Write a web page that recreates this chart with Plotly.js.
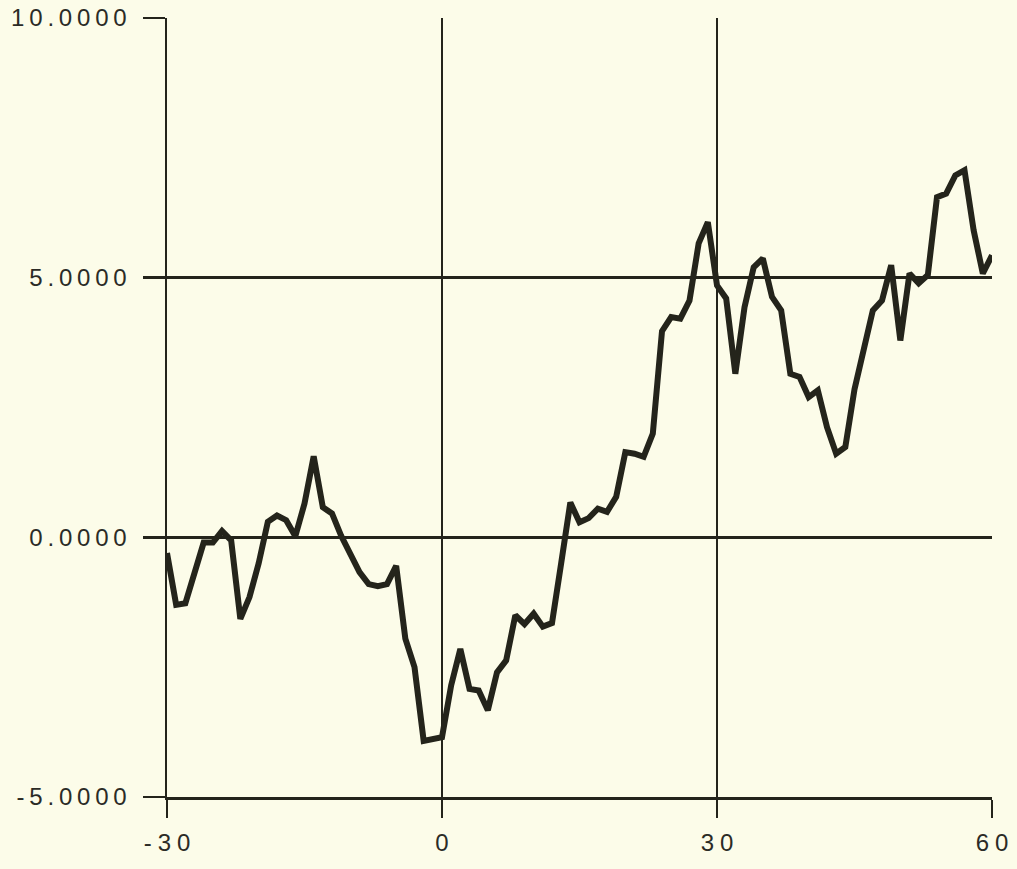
<!DOCTYPE html>
<html>
<head>
<meta charset="utf-8">
<script src="https://cdn.plot.ly/plotly-3.0.1.min.js"></script>
<style>
  html, body { margin: 0; padding: 0; background: #fcfce9; }
  #chart { width: 1017px; height: 869px; }
</style>
</head>
<body>
<div id="chart"></div>
<script>
// Series: x positions and values
const xValues = [
  -30, -29, -28, -27, -26, -25, -24, -23, -22, -21,
  -20, -19, -18, -17, -16, -15, -14, -13, -12, -11,
  -10, -9, -8, -7, -6, -5, -4, -3, -2, -1,
  0, 1, 2, 3, 4, 5, 6, 7, 8, 9,
  10, 11, 12, 13, 14, 15, 16, 17, 18, 19,
  20, 21, 22, 23, 24, 25, 26, 27, 28, 29,
  30, 31, 32, 33, 34, 35, 36, 37, 38, 39,
  40, 41, 42, 43, 44, 45, 46, 47, 48, 49,
  50, 51, 52, 53, 54, 55, 56, 57, 58, 59, 60
];
const yValues = [
  -0.30, -1.30, -1.27, -0.64, -0.10, -0.10, 0.12, -0.06, -1.57, -1.15,
  -0.50, 0.30, 0.42, 0.33, 0.02, 0.65, 1.56, 0.58, 0.46, 0.03,
  -0.35, -0.67, -0.90, -0.94, -0.90, -0.55, -1.95, -2.50, -3.92, -3.88,
  -3.85, -2.85, -2.15, -2.92, -2.95, -3.33, -2.60, -2.37, -1.50, -1.67,
  -1.47, -1.72, -1.65, -0.50, 0.67, 0.29, 0.37, 0.55, 0.49, 0.78,
  1.64, 1.61, 1.55, 2.00, 3.97, 4.24, 4.21, 4.56, 5.66, 6.07,
  4.85, 4.60, 3.15, 4.43, 5.20, 5.37, 4.63, 4.37, 3.15, 3.09,
  2.70, 2.83, 2.12, 1.61, 1.74, 2.85, 3.60, 4.37, 4.56, 5.24,
  3.79, 5.08, 4.89, 5.05, 6.55, 6.62, 6.97, 7.07, 5.91, 5.08, 5.43
];

// Tick labels
const xTickVals = [-30, 0, 30, 60];
const xTickText = ["-30", "0", "30", "60"];
const yTickVals = [-5, 0, 5, 10];
const yTickText = ["-5.0000", "0.0000", "5.0000", "10.0000"];

function spaced(s, gap) { return s.split('').join(gap); }

const ink = '#24241b';
const bg = '#fcfce9';

const trace = {
  x: xValues,
  y: yValues,
  type: 'scatter',
  mode: 'lines',
  line: { color: ink, width: 6, shape: 'linear' },
  hoverinfo: 'x+y'
};

const layout = {
  width: 1017,
  height: 869,
  paper_bgcolor: bg,
  plot_bgcolor: bg,
  showlegend: false,
  margin: { l: 167, r: 25, t: 18, b: 72, pad: 0 },
  font: { family: 'Liberation Sans, Arial, sans-serif', size: 24, color: '#2b2b26' },
  xaxis: {
    range: [-30, 60],
    tickmode: 'array',
    tickvals: xTickVals,
    ticktext: xTickText.map(function (s) { return spaced(s, '\u2005'); }),
    ticks: 'outside',
    ticklen: 18,
    tickwidth: 2.5,
    tickcolor: ink,
    showgrid: true,
    gridcolor: ink,
    gridwidth: 2.5,
    zeroline: false,
    showline: true,
    linecolor: ink,
    linewidth: 2.5,
    mirror: false,
    ticklabelstandoff: 5,
    tickfont: { size: 24 },
    fixedrange: true
  },
  yaxis: {
    range: [-5, 10],
    tickmode: 'array',
    tickvals: yTickVals,
    ticktext: yTickText.map(function (s) { return spaced(s, '\u2009'); }),
    ticks: 'outside',
    ticklen: 22,
    tickwidth: 2.5,
    tickcolor: ink,
    showgrid: true,
    gridcolor: ink,
    gridwidth: 2.5,
    zeroline: false,
    showline: true,
    linecolor: ink,
    linewidth: 2.5,
    ticklabelstandoff: 11,
    tickfont: { size: 24 },
    fixedrange: true
  }
};

Plotly.newPlot('chart', [trace], layout, { displayModeBar: false, staticPlot: true });
</script>
</body>
</html>
